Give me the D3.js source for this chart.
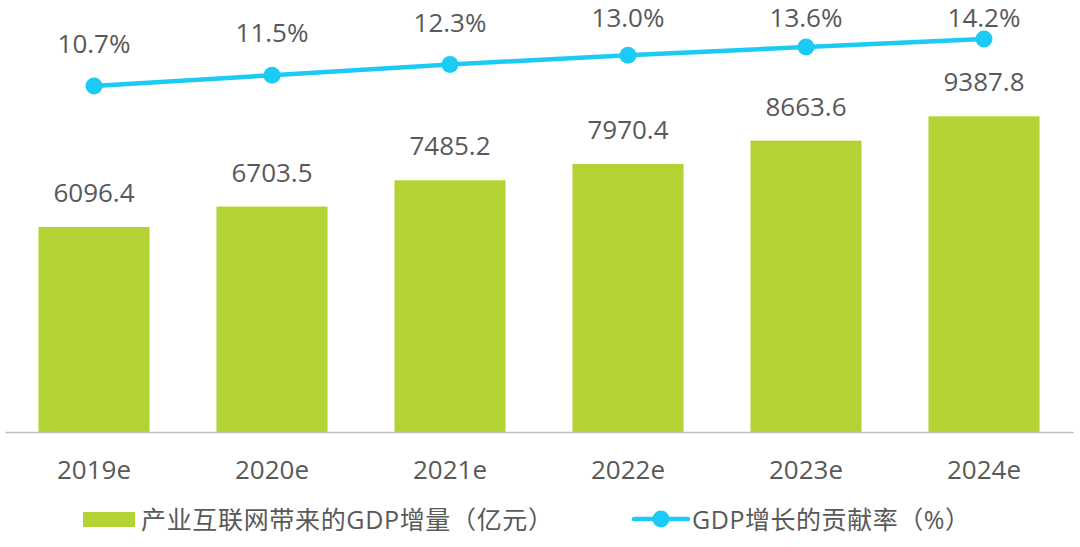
<!DOCTYPE html>
<html>
<head>
<meta charset="utf-8">
<script src="https://cdn.jsdelivr.net/npm/d3@7/dist/d3.min.js"></script>
<style>
  html, body { margin: 0; padding: 0; background: #fff; }
  svg { display: block; font-family: "Open Sans", "Noto Sans CJK SC", sans-serif; }
</style>
</head>
<body>
<svg id="chart" width="1080" height="547"></svg>
<script>
const categories = ["2019e", "2020e", "2021e", "2022e", "2023e", "2024e"];
const gdpIncrease = [6096.4, 6703.5, 7485.2, 7970.4, 8663.6, 9387.8];
const contribution = [10.7, 11.5, 12.3, 13.0, 13.6, 14.2];
const barSeriesName = "产业互联网带来的GDP增量（亿元）";
const lineSeriesName = "GDP增长的贡献率（%）";

const green = "#b3d334";
const blue = "#1ccbf3";
const textColor = "#595959";

const svg = d3.select("#chart");

const x = d3.scaleBand().domain(categories).range([5, 1073])
  .paddingInner(0.376).paddingOuter(0.188);
const yBar = d3.scaleLinear().domain([0, 10000]).range([432, 95.7]);
const yLine = d3.scaleLinear().domain([10, 15]).range([95.4, 28.3]);

// bars
svg.append("g").selectAll("rect").data(gdpIncrease).join("rect")
  .attr("x", (d, i) => x(categories[i]))
  .attr("y", d => yBar(d))
  .attr("width", x.bandwidth())
  .attr("height", d => yBar(0) - yBar(d))
  .attr("fill", green);

// bar labels
svg.append("g").selectAll("text").data(gdpIncrease).join("text")
  .attr("x", (d, i) => x(categories[i]) + x.bandwidth() / 2)
  .attr("y", d => yBar(d) - 25)
  .attr("text-anchor", "middle")
  .attr("font-size", 26)
  .attr("fill", textColor)
  .text(d => d.toFixed(1));

// axis
const axis = svg.append("g").attr("transform", `translate(0,${yBar(0)})`)
  .call(d3.axisBottom(x).tickSize(0).tickSizeOuter(0).tickPadding(0));
axis.select(".domain").attr("stroke", "#bfbfbf").attr("stroke-width", 1.5);
axis.selectAll(".tick text")
  .attr("y", 47).attr("dy", 0)
  .attr("font-size", 26)
  .attr("font-family", "\"Open Sans\", \"Noto Sans CJK SC\", sans-serif")
  .attr("fill", textColor);

// line
const cx = (i) => x(categories[i]) + x.bandwidth() / 2;
const line = d3.line().x((d, i) => cx(i)).y(d => yLine(d));
svg.append("path").datum(contribution)
  .attr("d", line).attr("fill", "none")
  .attr("stroke", blue).attr("stroke-width", 4.5);
svg.append("g").selectAll("circle").data(contribution).join("circle")
  .attr("cx", (d, i) => cx(i)).attr("cy", d => yLine(d)).attr("r", 8.5)
  .attr("fill", blue);
svg.append("g").selectAll("text").data(contribution).join("text")
  .attr("x", (d, i) => cx(i))
  .attr("y", d => Math.max(yLine(d) - 33, 27))
  .attr("text-anchor", "middle")
  .attr("font-size", 26)
  .attr("fill", textColor)
  .text(d => d.toFixed(1) + "%");

// legend
const lg = svg.append("g");
lg.append("rect").attr("x", 83).attr("y", 512).attr("width", 52).attr("height", 15).attr("fill", green);
lg.append("text").attr("x", 141).attr("y", 529).attr("font-size", 25).attr("fill", textColor)
  .attr("textLength", 412).attr("lengthAdjust", "spacing").text(barSeriesName);
lg.append("line").attr("x1", 634).attr("x2", 688).attr("y1", 519).attr("y2", 519)
  .attr("stroke", blue).attr("stroke-width", 4.5).attr("stroke-linecap", "round");
lg.append("circle").attr("cx", 661).attr("cy", 519).attr("r", 8.5).attr("fill", blue);
lg.append("text").attr("x", 692).attr("y", 529).attr("font-size", 25).attr("fill", textColor)
  .attr("textLength", 278).attr("lengthAdjust", "spacing").text(lineSeriesName);
</script>
</body>
</html>
